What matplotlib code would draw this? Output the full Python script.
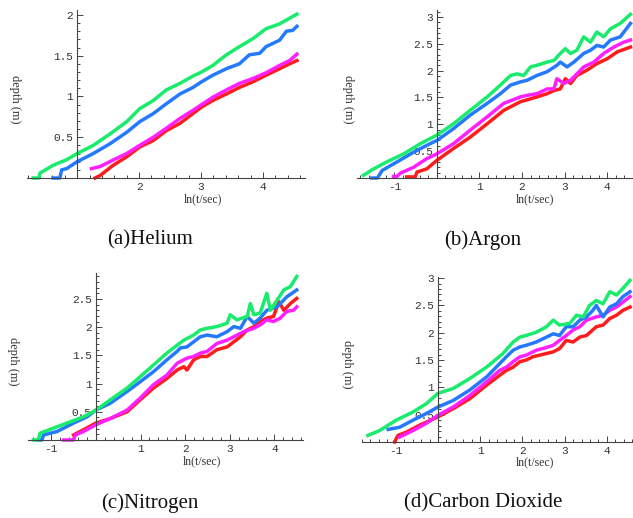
import matplotlib
matplotlib.use("Agg")
import matplotlib.pyplot as plt
from matplotlib.ticker import FixedLocator, MultipleLocator

# ---- data: ln(t/sec) vs depth (m) ----
# (a) Helium
he_green_x = [0.29, 0.38, 0.40, 0.61, 0.83, 1.0, 1.26, 1.53, 1.80, 2.01, 2.23, 2.44, 2.66, 2.87, 3.01, 3.19, 3.41, 3.62, 3.84, 4.05, 4.27, 4.55]
he_green_y = [0.0, 0.0, 0.06, 0.155, 0.225, 0.30, 0.40, 0.54, 0.69, 0.85, 0.95, 1.08, 1.16, 1.25, 1.30, 1.38, 1.51, 1.61, 1.71, 1.83, 1.89, 2.01]
he_blue_x = [0.61, 0.72, 0.75, 0.83, 1.0, 1.26, 1.53, 1.80, 2.01, 2.23, 2.44, 2.66, 2.87, 3.01, 3.19, 3.41, 3.62, 3.78, 3.95, 4.05, 4.27, 4.38, 4.48, 4.55]
he_blue_y = [0.0, 0.0, 0.10, 0.115, 0.20, 0.30, 0.42, 0.56, 0.69, 0.79, 0.91, 1.03, 1.11, 1.18, 1.26, 1.34, 1.40, 1.51, 1.53, 1.61, 1.69, 1.80, 1.81, 1.86]
he_mag_x = [1.23, 1.37, 1.58, 1.80, 2.01, 2.23, 2.44, 2.66, 2.87, 3.01, 3.19, 3.41, 3.62, 3.84, 4.05, 4.27, 4.43, 4.55]
he_mag_y = [0.115, 0.14, 0.22, 0.30, 0.40, 0.50, 0.61, 0.73, 0.83, 0.90, 0.99, 1.08, 1.16, 1.22, 1.29, 1.38, 1.44, 1.52]
he_red_x = [1.29, 1.37, 1.58, 1.80, 2.01, 2.23, 2.44, 2.66, 2.87, 3.01, 3.19, 3.41, 3.62, 3.84, 4.05, 4.27, 4.43, 4.55]
he_red_y = [0.0, 0.03, 0.155, 0.26, 0.38, 0.46, 0.58, 0.67, 0.79, 0.87, 0.95, 1.03, 1.11, 1.18, 1.26, 1.34, 1.40, 1.44]

# (b) Argon
ar_green_x = [-1.73, -1.49, -1.18, -0.78, -0.39, 0.0, 0.39, 0.78, 1.18, 1.49, 1.73, 1.88, 2.04, 2.20, 2.35, 2.59, 2.75, 2.90, 3.02, 3.14, 3.29, 3.45, 3.61, 3.76, 3.92, 4.08, 4.31, 4.55]
ar_green_y = [0.05, 0.17, 0.30, 0.45, 0.64, 0.80, 1.01, 1.26, 1.51, 1.73, 1.91, 1.94, 1.91, 2.07, 2.10, 2.16, 2.19, 2.32, 2.41, 2.32, 2.38, 2.63, 2.53, 2.72, 2.63, 2.78, 2.88, 3.05]
ar_blue_x = [-1.53, -1.40, -1.29, -0.94, -0.55, -0.16, 0.0, 0.39, 0.78, 1.18, 1.49, 1.73, 1.96, 2.12, 2.35, 2.59, 2.82, 2.90, 3.06, 3.22, 3.45, 3.61, 3.76, 3.92, 4.08, 4.31, 4.55]
ar_blue_y = [0.0, 0.0, 0.14, 0.30, 0.48, 0.64, 0.70, 0.92, 1.17, 1.39, 1.57, 1.73, 1.79, 1.82, 1.91, 1.98, 2.10, 2.16, 2.07, 2.16, 2.32, 2.38, 2.47, 2.44, 2.57, 2.63, 2.88]
ar_mag_x = [-1.02, -0.94, -0.86, -0.55, -0.24, 0.0, 0.39, 0.78, 1.18, 1.57, 1.96, 2.12, 2.35, 2.59, 2.75, 2.82, 2.98, 3.14, 3.29, 3.45, 3.69, 3.92, 4.16, 4.39, 4.55]
ar_mag_y = [0.03, 0.03, 0.09, 0.20, 0.36, 0.45, 0.64, 0.89, 1.14, 1.39, 1.51, 1.54, 1.57, 1.66, 1.66, 1.85, 1.76, 1.82, 1.94, 2.07, 2.16, 2.32, 2.44, 2.53, 2.57]
ar_red_x = [-0.71, -0.51, -0.47, -0.24, 0.0, 0.39, 0.78, 1.18, 1.57, 1.96, 2.35, 2.59, 2.75, 2.90, 3.02, 3.14, 3.29, 3.53, 3.76, 4.00, 4.24, 4.55]
ar_red_y = [0.02, 0.02, 0.11, 0.17, 0.33, 0.55, 0.76, 1.01, 1.26, 1.42, 1.51, 1.57, 1.63, 1.66, 1.85, 1.76, 1.91, 2.01, 2.13, 2.22, 2.35, 2.44]

# (c) Nitrogen
ni_green_x = [-1.40, -1.29, -1.25, -0.95, -0.65, -0.28, 0.0, 0.32, 0.70, 0.99, 1.29, 1.59, 1.82, 1.97, 2.19, 2.34, 2.49, 2.71, 2.94, 3.01, 3.16, 3.39, 3.46, 3.54, 3.68, 3.83, 3.91, 4.06, 4.21, 4.36, 4.50]
ni_green_y = [0.0, 0.0, 0.12, 0.21, 0.30, 0.41, 0.53, 0.71, 0.92, 1.12, 1.33, 1.54, 1.68, 1.77, 1.86, 1.95, 1.98, 2.01, 2.07, 2.22, 2.13, 2.19, 2.42, 2.22, 2.25, 2.60, 2.30, 2.48, 2.66, 2.72, 2.90]
ni_blue_x = [-1.29, -1.21, -1.17, -0.87, -0.50, -0.20, 0.0, 0.32, 0.70, 0.99, 1.29, 1.59, 1.82, 1.89, 2.04, 2.19, 2.34, 2.49, 2.71, 2.94, 3.09, 3.24, 3.39, 3.54, 3.68, 3.83, 4.06, 4.28, 4.50]
ni_blue_y = [0.0, 0.0, 0.09, 0.15, 0.30, 0.41, 0.53, 0.65, 0.86, 1.03, 1.21, 1.42, 1.57, 1.63, 1.65, 1.74, 1.83, 1.86, 1.83, 1.92, 2.01, 1.98, 2.19, 2.07, 2.16, 2.30, 2.36, 2.54, 2.66]
ni_red_x = [-0.50, -0.28, 0.0, 0.32, 0.70, 0.99, 1.29, 1.59, 1.82, 1.97, 2.04, 2.19, 2.34, 2.49, 2.71, 2.94, 3.09, 3.24, 3.39, 3.54, 3.68, 3.83, 3.98, 4.10, 4.21, 4.36, 4.50]
ni_red_y = [0.09, 0.18, 0.30, 0.38, 0.50, 0.71, 0.92, 1.09, 1.24, 1.30, 1.24, 1.42, 1.48, 1.48, 1.60, 1.65, 1.74, 1.83, 1.95, 2.01, 2.10, 2.16, 2.19, 2.45, 2.30, 2.42, 2.51]
ni_mag_x = [-0.72, -0.50, -0.46, -0.28, 0.0, 0.32, 0.70, 0.99, 1.29, 1.59, 1.82, 2.04, 2.19, 2.34, 2.49, 2.71, 2.94, 3.09, 3.31, 3.54, 3.68, 3.83, 3.98, 4.13, 4.28, 4.43, 4.50]
ni_mag_y = [0.0, 0.0, 0.09, 0.15, 0.27, 0.38, 0.53, 0.74, 0.98, 1.15, 1.36, 1.45, 1.48, 1.54, 1.57, 1.71, 1.77, 1.83, 1.92, 1.98, 2.04, 2.13, 2.10, 2.16, 2.28, 2.30, 2.36]

# (d) Carbon Dioxide
co_green_x = [-1.66, -1.38, -0.99, -0.59, -0.28, 0.0, 0.36, 0.75, 1.15, 1.54, 1.78, 1.94, 2.09, 2.33, 2.57, 2.73, 2.88, 3.12, 3.28, 3.44, 3.59, 3.75, 3.91, 4.07, 4.23, 4.38, 4.55]
co_green_y = [0.12, 0.21, 0.40, 0.55, 0.70, 0.89, 0.98, 1.16, 1.37, 1.62, 1.83, 1.92, 1.95, 2.01, 2.11, 2.23, 2.14, 2.17, 2.32, 2.29, 2.50, 2.59, 2.53, 2.75, 2.69, 2.81, 2.96]
co_blue_x = [-1.18, -0.91, -0.59, -0.28, 0.0, 0.36, 0.75, 1.15, 1.38, 1.62, 1.78, 1.94, 2.09, 2.33, 2.57, 2.73, 2.88, 3.04, 3.20, 3.36, 3.52, 3.67, 3.75, 3.91, 4.07, 4.23, 4.38, 4.55]
co_blue_y = [0.23, 0.27, 0.40, 0.52, 0.64, 0.76, 0.95, 1.19, 1.37, 1.56, 1.68, 1.74, 1.77, 1.83, 1.92, 1.98, 1.95, 2.11, 2.11, 2.23, 2.29, 2.41, 2.50, 2.29, 2.47, 2.53, 2.66, 2.75]
co_red_x = [-1.03, -0.95, -0.75, -0.43, 0.0, 0.36, 0.75, 1.15, 1.46, 1.62, 1.78, 1.94, 2.09, 2.25, 2.41, 2.57, 2.73, 2.88, 3.04, 3.20, 3.36, 3.52, 3.75, 3.91, 4.07, 4.23, 4.38, 4.55]
co_red_y = [0.0, 0.12, 0.18, 0.31, 0.46, 0.61, 0.79, 1.04, 1.22, 1.31, 1.37, 1.47, 1.50, 1.56, 1.59, 1.62, 1.65, 1.71, 1.86, 1.83, 1.92, 1.95, 2.11, 2.14, 2.26, 2.32, 2.41, 2.47]
co_mag_x = [-0.91, -0.59, -0.28, 0.0, 0.36, 0.75, 1.15, 1.46, 1.62, 1.78, 1.94, 2.09, 2.33, 2.57, 2.73, 2.88, 3.04, 3.20, 3.36, 3.52, 3.75, 3.91, 4.07, 4.23, 4.38, 4.55]
co_mag_y = [0.09, 0.21, 0.34, 0.49, 0.64, 0.85, 1.10, 1.31, 1.37, 1.47, 1.56, 1.59, 1.68, 1.73, 1.77, 1.86, 1.95, 2.05, 2.11, 2.23, 2.29, 2.32, 2.41, 2.47, 2.56, 2.66]

GREEN = '#19ec6c'
BLUE = '#2479ff'
MAGENTA = '#ff1fff'
RED = '#ff1c1c'


def panel(fig, box, xlim, ylim, origin, xticks, yticks, curves, caption, cap_pos):
    W, H = 633.0, 518.0
    left, top, right, bottom = box
    ax = fig.add_axes([left / W, 1 - bottom / H, (right - left) / W, (bottom - top) / H])
    for x, y, c in curves:
        ax.plot(x, y, color=c, lw=2.5, solid_joinstyle='round', clip_on=False)
    ax.set_xlim(*xlim)
    ax.set_ylim(*ylim)
    for s in ['top', 'right']:
        ax.spines[s].set_visible(False)
    ax.spines['left'].set_position(('data', origin))
    ax.spines['bottom'].set_position(('data', 0))
    for s in ['left', 'bottom']:
        ax.spines[s].set_color('#444444')
        ax.spines[s].set_linewidth(0.8)
    ax.xaxis.set_major_locator(FixedLocator(xticks))
    ax.set_xticklabels([str(t) for t in xticks])
    ax.xaxis.set_minor_locator(MultipleLocator(0.2))
    ax.yaxis.set_major_locator(FixedLocator(yticks))
    ax.set_yticklabels([('%g' % t) for t in yticks])
    ax.yaxis.set_minor_locator(MultipleLocator(0.1))
    ax.tick_params(which='both', direction='in', color='#444444', width=0.7,
                   labelsize=8, labelcolor='#333333', pad=3)
    ax.tick_params(which='major', length=4)
    ax.tick_params(which='minor', length=2)
    for lab in ax.get_xticklabels() + ax.get_yticklabels():
        lab.set_family('Liberation Mono')
    ax.patch.set_alpha(0)
    # axis labels, Mathematica style
    xl_x = (cap_pos[2] - left) / (right - left)
    ax.text(xl_x, -0.125, 'ln(t/sec)', transform=ax.transAxes, ha='center', va='center',
            family='Liberation Serif', fontsize=8.5, color='#333333')
    yl_x = (cap_pos[3] - left) / (right - left)
    ax.text(yl_x, 0.47, 'depth (m)', transform=ax.transAxes, ha='center', va='center',
            rotation=270, family='Liberation Serif', fontsize=9, color='#333333')
    fig.text(cap_pos[0] / W, 1 - cap_pos[1] / H, caption, ha='center', va='center',
             family='Liberation Serif', fontsize=15, color='#111111')
    return ax


fig = plt.figure(figsize=(6.33, 5.18), dpi=100)

panel(fig, (27, 10, 305, 178), (0.19, 4.68), (0, 2.06), 1, [2, 3, 4], [0.5, 1, 1.5, 2],
      [(he_red_x, he_red_y, RED), (he_mag_x, he_mag_y, MAGENTA),
       (he_blue_x, he_blue_y, BLUE), (he_green_x, he_green_y, GREEN)],
      '(a)Helium', (150, 240, 203, 15))

panel(fig, (357, 10, 633, 178), (-1.88, 4.61), (0, 3.13), 0, [-1, 1, 2, 3, 4], [0.5, 1, 1.5, 2, 2.5, 3],
      [(ar_red_x, ar_red_y, RED), (ar_mag_x, ar_mag_y, MAGENTA),
       (ar_blue_x, ar_blue_y, BLUE), (ar_green_x, ar_green_y, GREEN)],
      '(b)Argon', (483, 240, 535, 348))

panel(fig, (28, 273, 303, 440), (-1.52, 4.64), (0, 2.96), 0, [-1, 1, 2, 3, 4], [0.5, 1, 1.5, 2, 2.5],
      [(ni_red_x, ni_red_y, RED), (ni_mag_x, ni_mag_y, MAGENTA),
       (ni_blue_x, ni_blue_y, BLUE), (ni_green_x, ni_green_y, GREEN)],
      '(c)Nitrogen', (150, 503, 202, 13))

panel(fig, (362, 277, 633, 442), (-1.80, 4.62), (0, 3.02), 0, [-1, 1, 2, 3, 4], [0.5, 1, 1.5, 2, 2.5, 3],
      [(co_red_x, co_red_y, RED), (co_mag_x, co_mag_y, MAGENTA),
       (co_blue_x, co_blue_y, BLUE), (co_green_x, co_green_y, GREEN)],
      '(d)Carbon Dioxide', (483, 503, 535, 347))

fig.savefig('out.png', dpi=100)
